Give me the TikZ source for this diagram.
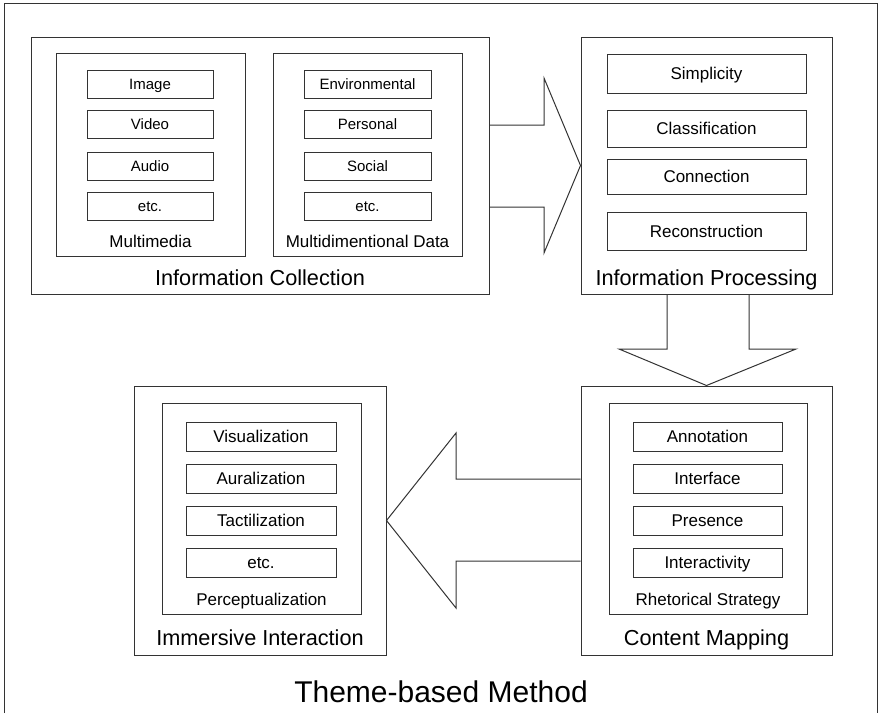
\documentclass[tikz,border=0pt]{standalone}
\usepackage{fontspec}
\setmainfont{Liberation Sans}
\usetikzlibrary{fit}
\begin{document}
\begin{tikzpicture}[x=1pt,y=-1pt,
  every node/.style={text=black},
  frame/.style={draw=black!80, line width=1pt, inner sep=0pt},
  itembox/.style={draw=black!80, line width=1pt, inner sep=0pt, text depth=0pt},
  fsmall/.style={font=\fontsize{15pt}{18pt}\selectfont, text height=10.7pt},
  fmid/.style={font=\fontsize{17pt}{20pt}\selectfont, text height=12.2pt},
  fbig/.style={font=\fontsize{21.7pt}{26pt}\selectfont},
  ftitle/.style={font=\fontsize{30pt}{36pt}\selectfont},
  lbl/.style={anchor=base, inner sep=0pt},
  blockarrow/.style={draw=black!80, line width=1pt, line join=miter}]
\useasboundingbox (0,0) rectangle (879,713);
% outer frame (bottom cut off)
\draw[black!80, line width=1pt] (4,713) -- (4,3) -- (877,3) -- (877,713);

% Information Collection
\node[frame, fit={(31,37) (489,294)}] (coll) {};
\node[frame, fit={(56,53) (245,256)}] (mm) {};
\node[frame, fit={(273,53) (462,256)}] (md) {};
\node[itembox, fsmall, minimum width=126pt, minimum height=28pt] (img) at (150,84) {Image};
\node[itembox, fsmall, minimum width=126pt, minimum height=28pt] (vid) at (150,124.5) {Video};
\node[itembox, fsmall, minimum width=126pt, minimum height=28pt] (aud) at (150,166) {Audio};
\node[itembox, fsmall, minimum width=126pt, minimum height=28pt] (etc1) at (150,206) {etc.};
\node[itembox, fsmall, minimum width=127pt, minimum height=28pt] (env) at (367.5,84) {Environmental};
\node[itembox, fsmall, minimum width=127pt, minimum height=28pt] (per) at (367.5,124.5) {Personal};
\node[itembox, fsmall, minimum width=127pt, minimum height=28pt] (soc) at (367.5,166) {Social};
\node[itembox, fsmall, minimum width=127pt, minimum height=28pt] (etc2) at (367.5,206) {etc.};
\node[lbl, fmid, text height=] (mmlbl) at (150.5,247) {Multimedia};
\node[lbl, fmid, text height=] (mdlbl) at (367.5,247) {Multidimentional Data};
\node[lbl, fbig] (colllbl) at (260,285) {Information Collection};

% Information Processing
\node[frame, fit={(581,37) (832,294)}] (proc) {};
\node[itembox, fmid, minimum width=199pt, minimum height=39pt] (simp) at (706.5,73.5) {Simplicity};
\node[itembox, fmid, minimum width=199pt, minimum height=37pt] (clas) at (706.5,128.5) {Classification};
\node[itembox, fmid, minimum width=199pt, minimum height=35pt] (conn) at (706.5,176.5) {Connection};
\node[itembox, fmid, minimum width=199pt, minimum height=38pt] (reco) at (706.5,231) {Reconstruction};
\node[lbl, fbig] (proclbl) at (706.5,285) {Information Processing};

% Content Mapping
\node[frame, fit={(581,386) (832,655)}] (cmap) {};
\node[frame, fit={(609,403) (807,614)}] (rhet) {};
\node[itembox, fmid, minimum width=149pt, minimum height=29pt] (anno) at (707.5,436.5) {Annotation};
\node[itembox, fmid, minimum width=149pt, minimum height=29pt] (intf) at (707.5,478.5) {Interface};
\node[itembox, fmid, minimum width=149pt, minimum height=29pt] (pres) at (707.5,520.5) {Presence};
\node[itembox, fmid, minimum width=149pt, minimum height=29pt] (inta) at (707.5,562.5) {Interactivity};
\node[lbl, fmid, text height=] (rhetlbl) at (708,605) {Rhetorical Strategy};
\node[lbl, fbig] (cmaplbl) at (706.5,645) {Content Mapping};

% Immersive Interaction
\node[frame, fit={(134,386) (386,655)}] (imm) {};
\node[frame, fit={(162,403) (361,614)}] (perc) {};
\node[itembox, fmid, minimum width=150pt, minimum height=29pt] (visu) at (261,436.5) {Visualization};
\node[itembox, fmid, minimum width=150pt, minimum height=29pt] (aura) at (261,478.5) {Auralization};
\node[itembox, fmid, minimum width=150pt, minimum height=29pt] (tact) at (261,520.5) {Tactilization};
\node[itembox, fmid, minimum width=150pt, minimum height=29pt] (etc3) at (261,562.5) {etc.};
\node[lbl, fmid, text height=] (perclbl) at (261.5,605) {Perceptualization};
\node[lbl, fbig] (immlbl) at (260,645) {Immersive Interaction};

% Title
\node[lbl, ftitle] (title) at (441,702) {Theme-based Method};

% Block arrows
\draw[blockarrow] (coll.east |- 0,125) -- (544,125) -- (544,78) -- (proc.west) -- (544,253) -- (544,207) -- (coll.east |- 0,207);
\draw[blockarrow] (proc.south -| 667,0) -- (667,349) -- (619,349) -- (cmap.north) -- (796,349) -- (749,349) -- (proc.south -| 749,0);
\draw[blockarrow] (cmap.west |- 0,479) -- (456,479) -- (456,433) -- (imm.east) -- (456,608) -- (456,561) -- (cmap.west |- 0,561);
\end{tikzpicture}
\end{document}
